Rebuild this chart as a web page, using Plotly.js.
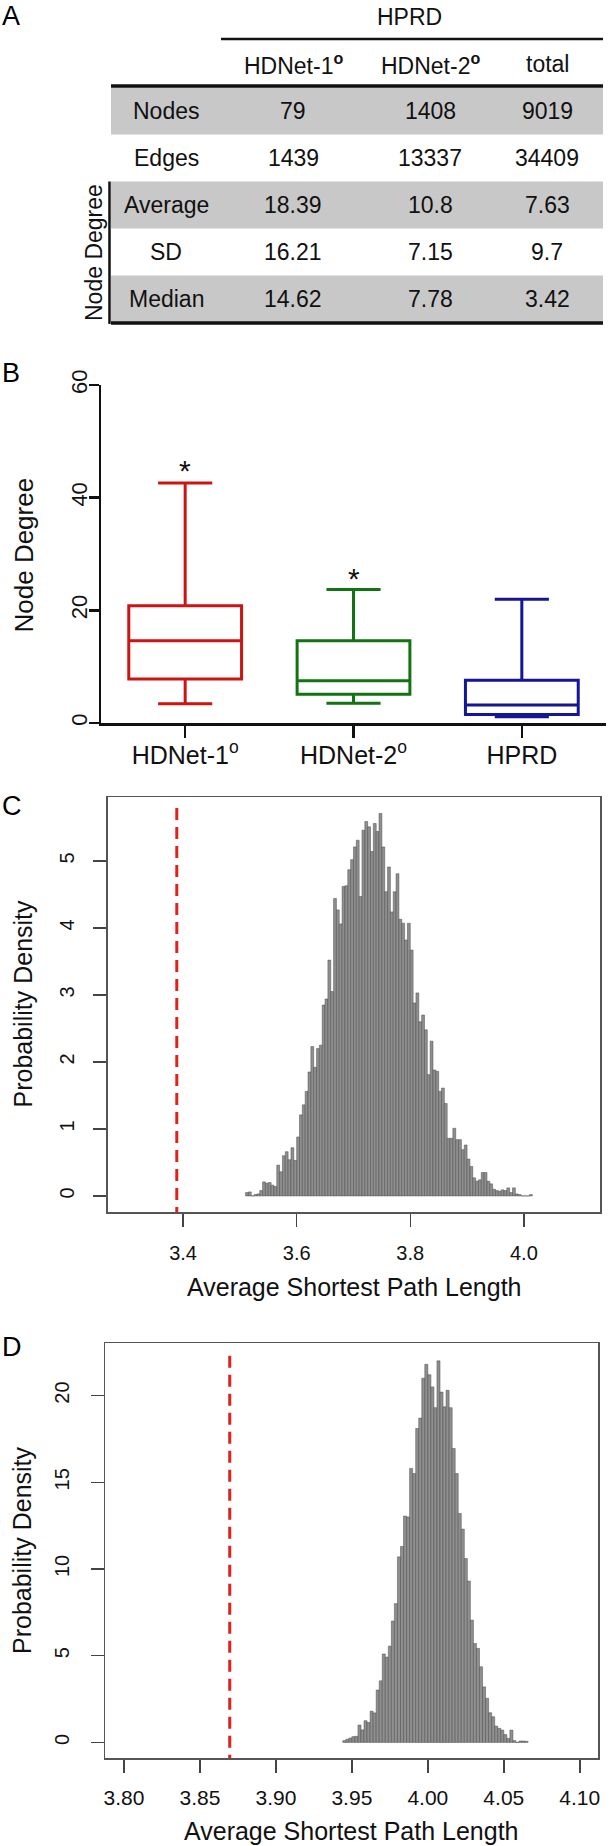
<!DOCTYPE html>
<html>
<head>
<meta charset="utf-8">
<script src="https://cdn.plot.ly/plotly-3.0.1.min.js"></script>
<style>html,body{margin:0;padding:0;background:#fff;}#chart{width:613px;height:1846px;}</style>
</head>
<body>
<div id="chart"></div>
<script>
// ---------------- DATA ----------------
// Panel A (table)
const tableGroupHeader = 'HPRD';
const tableColumns = ['HDNet-1<sup><b>o</b></sup>', 'HDNet-2<sup><b>o</b></sup>', 'total'];
const tableRows = ['Nodes', 'Edges', 'Average', 'SD', 'Median'];
const tableRowGroup = 'Node Degree';
const hdnet1Values = ['79', '1439', '18.39', '16.21', '14.62'];
const hdnet2Values = ['1408', '13337', '10.8', '7.15', '7.78'];
const totalValues = ['9019', '34409', '7.63', '9.7', '3.42'];

// Panel B (box plot of node degree)
const boxCategories = ['HDNet-1', 'HDNet-2', 'HPRD'];
const boxTickLabels = ['HDNet-1<sup>o</sup>', 'HDNet-2<sup>o</sup>', 'HPRD'];
const boxLowerWhisker = [3.4, 3.5, 1.1];
const boxQ1 = [7.8, 5.1, 1.5];
const boxMedian = [14.6, 7.5, 3.2];
const boxQ3 = [20.8, 14.6, 7.6];
const boxUpperWhisker = [42.6, 23.7, 21.95];
const boxColors = ['#cc1414', '#137313', '#15159a'];
const boxSignificant = [true, true, false];
const boxStarY = [44.9, 25.7, null];

// Panel C histogram (bin centres, density)
const cBinCenters = [
  3.5125, 3.5175, 3.5225, 3.5275, 3.5325, 3.5375, 3.5425, 3.5475, 3.5525, 3.5575,
  3.5625, 3.5675, 3.5725, 3.5775, 3.5825, 3.5875, 3.5925, 3.5975, 3.6025, 3.6075,
  3.6125, 3.6175, 3.6225, 3.6275, 3.6325, 3.6375, 3.6425, 3.6475, 3.6525, 3.6575,
  3.6625, 3.6675, 3.6725, 3.6775, 3.6825, 3.6875, 3.6925, 3.6975, 3.7025, 3.7075,
  3.7125, 3.7175, 3.7225, 3.7275, 3.7325, 3.7375, 3.7425, 3.7475, 3.7525, 3.7575,
  3.7625, 3.7675, 3.7725, 3.7775, 3.7825, 3.7875, 3.7925, 3.7975, 3.8025, 3.8075,
  3.8125, 3.8175, 3.8225, 3.8275, 3.8325, 3.8375, 3.8425, 3.8475, 3.8525, 3.8575,
  3.8625, 3.8675, 3.8725, 3.8775, 3.8825, 3.8875, 3.8925, 3.8975, 3.9025, 3.9075,
  3.9125, 3.9175, 3.9225, 3.9275, 3.9325, 3.9375, 3.9425, 3.9475, 3.9525, 3.9575,
  3.9625, 3.9675, 3.9725, 3.9775, 3.9825, 3.9875, 3.9925, 3.9975, 4.0025, 4.0075,
  4.0125
];
const cDensity = [
  0.05, 0.06, 0.00, 0.02, 0.03, 0.08, 0.21, 0.19, 0.20, 0.16,
  0.14, 0.46, 0.36, 0.60, 0.66, 0.54, 0.72, 0.53, 0.88, 1.21,
  1.36, 1.56, 1.85, 2.23, 1.92, 2.20, 2.25, 2.85, 2.94, 3.52,
  3.05, 4.44, 4.27, 4.06, 4.62, 4.63, 4.87, 5.02, 5.21, 5.31,
  4.47, 5.46, 5.59, 5.51, 5.14, 5.56, 5.44, 5.71, 5.21, 4.54,
  4.91, 4.24, 4.54, 4.81, 4.13, 4.07, 3.82, 4.07, 3.67, 2.88,
  3.03, 2.60, 2.70, 2.48, 1.81, 2.31, 1.88, 1.86, 1.56, 1.61,
  1.38, 0.86, 0.86, 1.01, 0.84, 0.84, 0.69, 0.76, 0.55, 0.44,
  0.27, 0.22, 0.24, 0.35, 0.35, 0.22, 0.18, 0.10, 0.08, 0.07,
  0.09, 0.08, 0.12, 0.05, 0.12, 0.03, 0.02, 0.00, 0.00, 0.00,
  0.02
];
const cBinWidth = 0.005;
const cObserved = 3.389;
const cXTicks = [3.4, 3.6, 3.8, 4.0];
const cXTickText = ['3.4', '3.6', '3.8', '4.0'];
const cYTicks = [0, 1, 2, 3, 4, 5];

// Panel D histogram
const dBinCenters = [
  3.945, 3.947, 3.949, 3.951, 3.953, 3.955, 3.957, 3.959, 3.961, 3.963,
  3.965, 3.967, 3.969, 3.971, 3.973, 3.975, 3.977, 3.979, 3.981, 3.983,
  3.985, 3.987, 3.989, 3.991, 3.993, 3.995, 3.997, 3.999, 4.001, 4.003,
  4.005, 4.007, 4.009, 4.011, 4.013, 4.015, 4.017, 4.019, 4.021, 4.023,
  4.025, 4.027, 4.029, 4.031, 4.033, 4.035, 4.037, 4.039, 4.041, 4.043,
  4.045, 4.047, 4.049, 4.051, 4.053, 4.055, 4.057, 4.059, 4.061, 4.063,
  4.065
];
const dDensity = [
  0.10, 0.18, 0.25, 0.33, 0.35, 1.00, 0.72, 1.25, 1.15, 1.80,
  1.70, 3.02, 3.55, 5.10, 4.92, 5.55, 7.00, 8.00, 10.7, 11.3,
  13.05, 13.0, 15.8, 15.5, 18.1, 18.7, 21.0, 21.8, 21.2, 20.5,
  19.3, 22.0, 20.2, 19.35, 20.3, 19.3, 16.95, 15.5, 13.2, 12.3,
  10.6, 9.3, 7.05, 5.7, 5.42, 4.36, 3.2, 2.54, 1.71, 1.48,
  0.94, 0.81, 0.71, 0.45, 0.23, 0.71, 0.10, 0.00, 0.08, 0.08,
  0.06
];
const dBinWidth = 0.002;
const dObserved = 3.8696;
const dXTicks = [3.80, 3.85, 3.90, 3.95, 4.00, 4.05, 4.10];
const dXTickText = ['3.80', '3.85', '3.90', '3.95', '4.00', '4.05', '4.10'];
const dYTicks = [0, 5, 10, 15, 20];

const xTitleHist = 'Average Shortest Path Length';
const yTitleHist = 'Probability Density';
const yTitleBox = 'Node Degree';

// ---------------- LAYOUT HELPERS ----------------
const W = 613, H = 1846;
const FONT = 'Liberation Sans, Arial, Helvetica, sans-serif';
const ink = '#111111';
const py = (px) => 1 - px / H;   // page pixel row -> paper y
const pxX = (px) => px / W;       // page pixel col -> paper x

const traces = [];

// Box traces
boxCategories.forEach((cat, i) => {
  traces.push({
    type: 'box', xaxis: 'x', yaxis: 'y',
    x: [cat], q1: [boxQ1[i]], median: [boxMedian[i]], q3: [boxQ3[i]],
    lowerfence: [boxLowerWhisker[i]], upperfence: [boxUpperWhisker[i]],
    boxpoints: false, width: 0.67, whiskerwidth: 0.48,
    fillcolor: 'rgba(255,255,255,0)',
    line: { color: boxColors[i], width: 3 },
    hoverinfo: 'skip', showlegend: false
  });
});

// Histograms
traces.push({
  type: 'bar', xaxis: 'x2', yaxis: 'y2', x: cBinCenters, y: cDensity, width: cBinWidth,
  marker: { color: '#8f8f8f', line: { color: '#4a4a4a', width: 0.5 } }, hoverinfo: 'skip'
});
traces.push({
  type: 'bar', xaxis: 'x3', yaxis: 'y3', x: dBinCenters, y: dDensity, width: dBinWidth,
  marker: { color: '#8f8f8f', line: { color: '#4a4a4a', width: 0.5 } }, hoverinfo: 'skip'
});

// Table helper axis: column index (x4), row index (y4)
const colPos = [0, 1, 2.08, 3];
const tableLeft = -0.433, tableRight = 3.441, groupLeft = 0.433;

const annotations = [];
const shapes = [];

tableRows.forEach((r, k) => {
  if (k % 2 === 0) {
    shapes.push({ type: 'rect', xref: 'x4', yref: 'y4', x0: tableLeft, x1: tableRight,
      y0: 2 + k - 0.5, y1: 2 + k + 0.5, fillcolor: '#c8c8c8', line: { width: 0 }, layer: 'below' });
  }
});
shapes.push({ type: 'line', xref: 'x4', yref: 'y4', x0: groupLeft, x1: tableRight, y0: 0.47, y1: 0.47, line: { color: ink, width: 2.5 } });
shapes.push({ type: 'line', xref: 'x4', yref: 'y4', x0: tableLeft, x1: tableRight, y0: 1.47, y1: 1.47, line: { color: ink, width: 3.5 } });
shapes.push({ type: 'line', xref: 'x4', yref: 'y4', x0: tableLeft, x1: tableRight, y0: 6.51, y1: 6.51, line: { color: ink, width: 3.5 } });
shapes.push({ type: 'line', xref: 'x4', yref: 'y4', x0: tableLeft - 0.012, x1: tableLeft - 0.012, y0: 3.5, y1: 6.53, line: { color: ink, width: 2.5 } });

const tfont = { family: FONT, size: 23, color: ink };
const ctr = { xanchor: 'center', yanchor: 'middle', showarrow: false };
annotations.push(Object.assign({ xref: 'x4', yref: 'y4', x: 1.92, y: 0, text: tableGroupHeader, font: tfont }, ctr));
tableColumns.forEach((c, i) => annotations.push(Object.assign({ xref: 'x4', yref: 'y4', x: colPos[i + 1], y: 1, text: c, font: tfont }, ctr)));
tableRows.forEach((r, k) => {
  annotations.push(Object.assign({ xref: 'x4', yref: 'y4', x: colPos[0], y: 2 + k, text: r, font: tfont }, ctr));
  annotations.push(Object.assign({ xref: 'x4', yref: 'y4', x: colPos[1], y: 2 + k, text: hdnet1Values[k], font: tfont }, ctr));
  annotations.push(Object.assign({ xref: 'x4', yref: 'y4', x: colPos[2], y: 2 + k, text: hdnet2Values[k], font: tfont }, ctr));
  annotations.push(Object.assign({ xref: 'x4', yref: 'y4', x: colPos[3], y: 2 + k, text: totalValues[k], font: tfont }, ctr));
});
annotations.push(Object.assign({ xref: 'x4', yref: 'y4', x: -0.567, y: 5, text: tableRowGroup, textangle: -90, font: tfont }, ctr));

// Stars on box plot
boxCategories.forEach((cat, i) => {
  if (boxSignificant[i]) annotations.push(Object.assign({ xref: 'x', yref: 'y', x: cat, y: boxStarY[i], text: '*',
    font: { family: FONT, size: 30, color: ink } }, ctr));
});

// Observed-value dashed lines
shapes.push({ type: 'line', xref: 'x2', yref: 'y2', x0: cObserved, x1: cObserved, y0: 5.79, y1: -0.24,
  line: { color: '#e0221c', width: 3, dash: '12px,7px' } });
shapes.push({ type: 'line', xref: 'x3', yref: 'y3', x0: dObserved, x1: dObserved, y0: 22.3, y1: -0.9,
  line: { color: '#e0221c', width: 3, dash: '12px,7px' } });

// Axis titles & panel letters
const titleFont = { family: FONT, size: 25, color: ink };
annotations.push(Object.assign({ xref: 'paper', yref: 'paper', x: pxX(23.5), y: py(555), text: yTitleBox, textangle: -90,
  font: { family: FONT, size: 26, color: ink } }, ctr));
annotations.push(Object.assign({ xref: 'paper', yref: 'paper', x: pxX(354), y: py(1287), text: xTitleHist, font: titleFont }, ctr));
annotations.push(Object.assign({ xref: 'paper', yref: 'paper', x: pxX(22.5), y: py(1004), text: yTitleHist, textangle: -90, font: titleFont }, ctr));
annotations.push(Object.assign({ xref: 'paper', yref: 'paper', x: pxX(352), y: py(1831), text: xTitleHist, font: titleFont }, ctr));
annotations.push(Object.assign({ xref: 'paper', yref: 'paper', x: pxX(22), y: py(1550), text: yTitleHist, textangle: -90, font: titleFont }, ctr));
const letterFont = { family: FONT, size: 27, color: '#000' };
[['A', 16], ['B', 373], ['C', 806], ['D', 1347]].forEach(([t, y]) => annotations.push({
  xref: 'paper', yref: 'paper', x: 0, xanchor: 'left', y: py(y), yanchor: 'middle', text: t, showarrow: false, font: letterFont }));

const histX = (dom, range, tv, tt, fs, so) => ({
  domain: dom, range: range, tickmode: 'array', tickvals: tv, ticktext: tt,
  ticks: 'outside', ticklen: 13, tickwidth: 1.5, tickcolor: '#444',
  showline: true, mirror: true, linecolor: '#555', linewidth: 1.5,
  showgrid: false, zeroline: false, fixedrange: true,
  tickfont: { family: FONT, size: fs, color: ink }, ticklabelstandoff: so
});
const histY = (dom, range, tv, so) => ({
  domain: dom, range: range, tickmode: 'array', tickvals: tv, tickangle: -90,
  ticks: 'outside', ticklen: 13, tickwidth: 1.5, tickcolor: '#444',
  showline: true, mirror: true, linecolor: '#555', linewidth: 1.5,
  showgrid: false, zeroline: false, fixedrange: true,
  tickfont: { family: FONT, size: 20, color: ink }, ticklabelstandoff: so
});

const layout = {
  width: W, height: H, margin: { l: 0, r: 0, t: 0, b: 0, pad: 0 },
  paper_bgcolor: '#ffffff', plot_bgcolor: 'rgba(0,0,0,0)', showlegend: false,
  font: { family: FONT, color: ink },
  boxmode: 'overlay', barmode: 'overlay', bargap: 0,
  xaxis: {
    domain: [pxX(101), pxX(606)], anchor: 'y', type: 'category', categoryorder: 'array', categoryarray: boxCategories,
    range: [-0.5, 2.5], tickmode: 'array', tickvals: boxCategories, ticktext: boxTickLabels,
    ticks: 'outside', ticklen: 12, tickwidth: 2.5, tickcolor: ink,
    showline: true, linecolor: ink, linewidth: 2.5, showgrid: false, zeroline: false, fixedrange: true,
    tickfont: { family: FONT, size: 25, color: ink }, ticklabelstandoff: -4
  },
  yaxis: {
    domain: [py(723), py(385)], anchor: 'x', range: [0, 60], tickmode: 'array', tickvals: [0, 20, 40, 60], tickangle: -90,
    ticks: 'outside', ticklen: 10, tickwidth: 2.5, tickcolor: ink,
    showline: true, linecolor: ink, linewidth: 2.5, showgrid: false, zeroline: false, fixedrange: true,
    tickfont: { family: FONT, size: 22, color: ink }, ticklabelstandoff: -7
  },
  xaxis2: Object.assign(histX([pxX(107.5), pxX(600)], [3.267, 4.134], cXTicks, cXTickText, 20, 9), { anchor: 'y2' }),
  yaxis2: Object.assign(histY([py(1212), py(797)], [-0.24, 5.955], cYTicks, 11), { anchor: 'x2' }),
  xaxis3: Object.assign(histX([pxX(105), pxX(598)], [3.7875, 4.112], dXTicks, dXTickText, 21, 7), { anchor: 'y3' }),
  yaxis3: Object.assign(histY([py(1758), py(1343)], [-0.9, 23.03], dYTicks, 14), { anchor: 'x3' }),
  xaxis4: { domain: [0, 1], anchor: 'y4', range: [-166 / 127, (613 - 166) / 127], visible: false, fixedrange: true },
  yaxis4: { domain: [py(330), 1], anchor: 'x4', range: [(330 - 17) / 47, -17 / 47], visible: false, fixedrange: true },
  shapes: shapes,
  annotations: annotations
};

Plotly.newPlot('chart', traces, layout, { staticPlot: true, displayModeBar: false });
</script>
</body>
</html>
